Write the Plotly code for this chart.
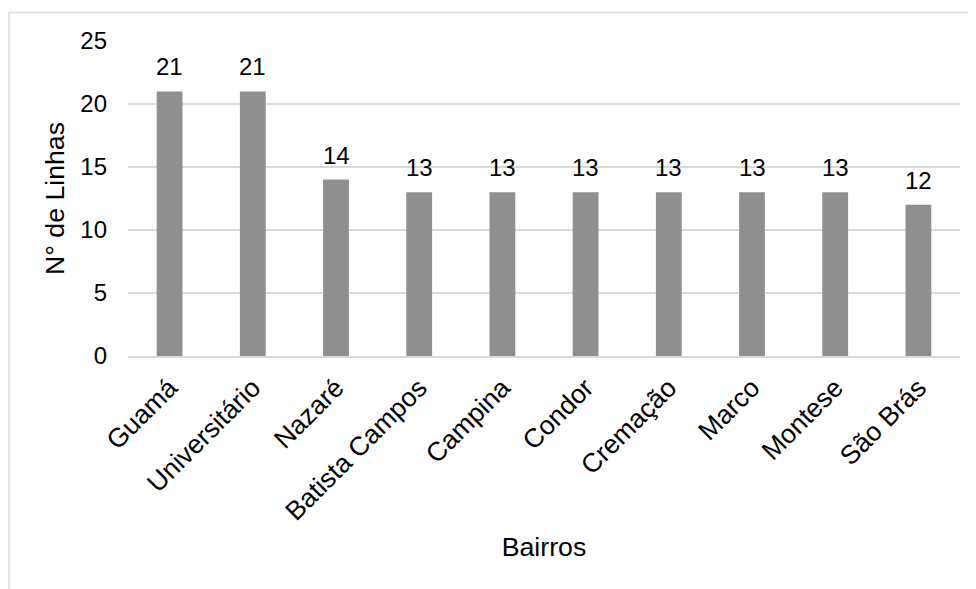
import plotly.graph_objects as go

# Número de linhas de ônibus por bairro
bairros = ["Guamá", "Universitário", "Nazaré", "Batista Campos", "Campina",
           "Condor", "Cremação", "Marco", "Montese", "São Brás"]
linhas = [21, 21, 14, 13, 13, 13, 13, 13, 13, 12]
y_ticks = [0, 5, 10, 15, 20, 25]

W, H = 976, 589
# the page body adds an 8px offset, so the margins are shifted to match
ML, MR, MT, MB = 120, 24, 33, 241
pw, ph = W - ML - MR, H - MT - MB

fig = go.Figure(
    go.Bar(
        x=bairros,
        y=linhas,
        marker=dict(color="#8f8f8f", line=dict(width=0)),
        width=0.31,
        hoverinfo="x+y",
    )
)

# value labels above the bars
for b, v in zip(bairros, linhas):
    fig.add_annotation(x=b, y=v, text=str(v), showarrow=False,
                       yanchor="bottom", yshift=9,
                       font=dict(size=24, color="#000000"))

fig.update_layout(
    width=W,
    height=H,
    margin=dict(l=ML, r=MR, t=MT, b=MB),
    plot_bgcolor="white",
    paper_bgcolor="white",
    font=dict(family="Liberation Sans, Arial, sans-serif", size=24, color="#000000"),
    showlegend=False,
    # light frame of the chart area (cropped on the right and bottom)
    shapes=[
        dict(type="rect", xref="paper", yref="paper",
             x0=(1 - ML) / pw, x1=1.2, y0=-1.5, y1=1 + (MT - 4.5) / ph,
             line=dict(color="#d9d9d9", width=1.5), layer="below"),
    ],
)

fig.update_xaxes(
    tickangle=-45,
    tickfont=dict(size=26.5),
    showgrid=False,
    showline=True,
    linecolor="#d9d9d9",
    linewidth=1.5,
    ticks="",
    ticklabelstandoff=4,
    title=dict(text="Bairros", font=dict(size=26.7), standoff=12),
    automargin=False,
)

fig.update_yaxes(
    range=[0, 25],
    tickvals=y_ticks,
    tickfont=dict(size=24),
    showgrid=True,
    gridcolor="#d9d9d9",
    gridwidth=1.5,
    zeroline=False,
    ticks="",
    ticklabelstandoff=20,
    title=dict(text="N° de Linhas", font=dict(size=26.7), standoff=7),
    automargin=False,
)

fig.write_html("out.html")
